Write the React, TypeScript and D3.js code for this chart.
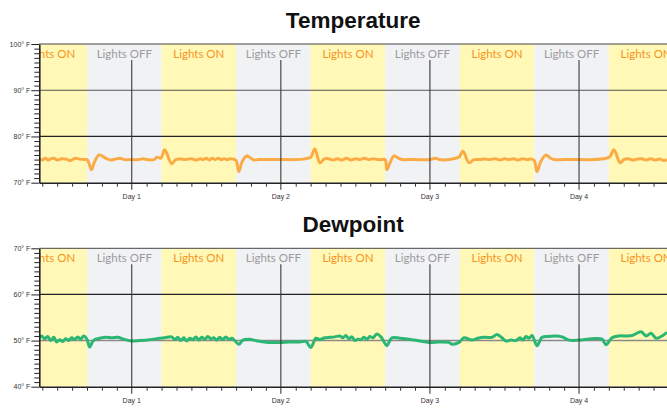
import { useEffect, useRef } from "react";
import * as d3 from "d3";

// time is in days; Day 1 = midnight at the start of day 1
const xDomain: [number, number] = [0.38, 4.59];
const dayValues = [1, 2, 3, 4];
const dayLabels = ["Day 1", "Day 2", "Day 3", "Day 4"];
const bandEdges = [0.2, 0.7, 1.2, 1.7, 2.2, 2.7, 3.2, 3.7, 4.2, 4.7];
const bandLabels = [
  "Lights ON", "Lights OFF", "Lights ON", "Lights OFF", "Lights ON",
  "Lights OFF", "Lights ON", "Lights OFF", "Lights ON",
];

const tempTicks = [70, 80, 90, 100];
const dewTicks = [40, 50, 60, 70];

// [day, °F]
const temperature: [number, number][] = [
  [0.38, 75.2], [0.4, 74.9], [0.42, 75.3], [0.44, 74.9], [0.46, 75.2], [0.48, 75.3],
  [0.5, 74.9], [0.53, 75.2], [0.56, 75.1], [0.59, 74.8], [0.62, 75.3], [0.65, 75.1],
  [0.68, 75.0], [0.7, 75.0], [0.715, 74.0], [0.73, 72.8], [0.75, 74.5], [0.78, 76.0],
  [0.8, 75.8], [0.83, 75.2], [0.86, 74.9], [0.89, 75.1], [0.92, 75.3], [0.95, 75.0],
  [0.98, 75.0], [1.0, 75.0], [1.05, 75.0], [1.08, 75.2], [1.1, 75.0], [1.15, 75.0],
  [1.17, 75.5], [1.195, 75.3], [1.221, 77.1], [1.268, 74.1], [1.295, 75.0], [1.33, 75.1],
  [1.36, 75.0], [1.4, 75.2], [1.43, 74.9], [1.46, 75.2], [1.48, 75.0], [1.5, 75.3],
  [1.52, 74.9], [1.54, 75.3], [1.56, 75.0], [1.58, 75.3], [1.6, 75.0], [1.62, 75.2],
  [1.64, 75.0], [1.66, 75.2], [1.68, 75.1], [1.7, 74.8], [1.718, 72.4], [1.74, 74.5],
  [1.77, 75.8], [1.79, 75.5], [1.82, 74.9], [1.85, 75.0], [1.9, 75.0], [2.0, 75.0],
  [2.1, 75.0], [2.15, 75.1], [2.18, 75.3], [2.2, 75.5], [2.228, 77.3], [2.262, 74.3],
  [2.29, 75.1], [2.32, 75.2], [2.35, 74.9], [2.38, 75.2], [2.41, 74.9], [2.44, 75.3],
  [2.47, 74.9], [2.5, 75.2], [2.53, 75.0], [2.56, 75.3], [2.59, 75.0], [2.62, 75.2],
  [2.65, 75.0], [2.68, 75.0], [2.7, 75.0], [2.711, 72.8], [2.735, 74.5], [2.758, 75.8],
  [2.79, 75.3], [2.815, 75.0], [2.85, 75.0], [2.9, 75.0], [3.0, 75.0], [3.04, 75.3],
  [3.06, 75.0], [3.13, 75.0], [3.17, 75.3], [3.195, 75.5], [3.221, 76.8], [3.262, 74.3],
  [3.295, 75.0], [3.33, 75.0], [3.37, 75.1], [3.4, 75.0], [3.44, 75.2], [3.47, 74.9],
  [3.5, 75.2], [3.53, 75.0], [3.56, 75.2], [3.59, 74.9], [3.62, 75.2], [3.65, 75.0],
  [3.68, 75.1], [3.7, 74.8], [3.718, 72.4], [3.745, 74.7], [3.779, 76.0], [3.8, 75.5],
  [3.832, 75.0], [3.9, 75.0], [4.0, 75.0], [4.1, 75.0], [4.181, 75.3], [4.205, 75.6],
  [4.235, 77.1], [4.275, 74.3], [4.3, 75.0], [4.33, 75.2], [4.36, 74.9], [4.39, 75.1],
  [4.42, 75.2], [4.45, 74.9], [4.48, 75.2], [4.51, 74.9], [4.54, 75.1], [4.57, 74.8],
  [4.59, 74.9],
];

const dewpoint: [number, number][] = [
  [0.38, 50.6], [0.396, 51.0], [0.416, 50.4], [0.436, 50.9], [0.456, 50.0], [0.477, 50.7],
  [0.497, 49.7], [0.517, 50.2], [0.537, 49.8], [0.557, 50.4], [0.577, 50.0], [0.597, 50.6],
  [0.617, 50.2], [0.638, 50.8], [0.658, 50.3], [0.678, 51.0], [0.698, 50.4], [0.718, 48.6],
  [0.738, 49.8], [0.758, 50.3], [0.785, 50.5], [0.826, 50.7], [0.866, 50.6], [0.906, 50.7],
  [0.946, 50.3], [1.0, 49.9], [1.054, 50.0], [1.121, 50.2], [1.188, 50.5], [1.221, 50.6],
  [1.268, 50.8], [1.289, 50.2], [1.309, 50.7], [1.329, 50.0], [1.349, 50.6], [1.369, 49.9],
  [1.389, 50.5], [1.409, 50.2], [1.43, 50.8], [1.45, 50.1], [1.47, 50.7], [1.49, 50.3],
  [1.51, 50.9], [1.53, 50.4], [1.55, 50.6], [1.57, 50.1], [1.59, 50.7], [1.61, 50.2],
  [1.631, 50.8], [1.651, 50.3], [1.671, 50.5], [1.691, 50.0], [1.718, 49.2], [1.745, 50.1],
  [1.785, 50.3], [1.846, 49.9], [1.919, 49.6], [1.993, 49.6], [2.06, 49.7], [2.128, 49.7],
  [2.168, 49.8], [2.201, 48.5], [2.235, 50.5], [2.262, 50.2], [2.295, 50.6], [2.329, 50.7],
  [2.362, 50.8], [2.396, 51.0], [2.416, 50.6], [2.436, 51.1], [2.456, 50.4], [2.477, 50.8],
  [2.497, 50.0], [2.517, 50.3], [2.537, 50.2], [2.557, 50.7], [2.577, 50.3], [2.597, 50.9],
  [2.617, 50.6], [2.644, 51.4], [2.671, 50.8], [2.691, 49.8], [2.711, 48.9], [2.745, 50.6],
  [2.799, 50.5], [2.859, 50.3], [2.933, 49.9], [2.993, 49.6], [3.067, 49.7], [3.128, 49.6],
  [3.148, 49.2], [3.195, 49.6], [3.228, 50.6], [3.282, 50.1], [3.322, 50.5], [3.369, 50.7],
  [3.416, 50.7], [3.45, 51.3], [3.483, 50.6], [3.51, 49.9], [3.544, 50.1], [3.577, 50.0],
  [3.604, 50.6], [3.624, 50.1], [3.644, 50.9], [3.664, 50.5], [3.685, 51.1], [3.718, 48.9],
  [3.752, 50.7], [3.799, 50.9], [3.846, 51.0], [3.886, 50.8], [3.933, 50.1], [4.0, 50.1],
  [4.087, 50.4], [4.154, 50.3], [4.181, 49.1], [4.221, 50.6], [4.268, 51.0], [4.315, 51.0],
  [4.356, 51.1], [4.416, 51.9], [4.45, 51.0], [4.483, 51.6], [4.517, 50.5], [4.557, 51.0],
  [4.59, 51.8],
];

const WIDTH = 667;
const HEIGHT = 410;
const LEFT = 39.3;

type PanelSpec = {
  id: string;
  title: string;
  titleY: number;
  top: number;
  bottom: number;
  ticks: number[];
  data: [number, number][];
  color: string;
  grid: { value: number; color: string; width: number }[];
};

function drawPanel(svg: d3.Selection<SVGSVGElement, unknown, null, undefined>, p: PanelSpec) {
  const x = d3.scaleLinear().domain(xDomain).range([LEFT, WIDTH]);
  const yExtent = d3.extent(p.ticks) as [number, number];
  const y = d3.scaleLinear().domain(yExtent).range([p.bottom, p.top]);

  svg.append("text")
    .attr("x", (LEFT + WIDTH) / 2)
    .attr("y", p.titleY)
    .attr("text-anchor", "middle")
    .attr("font-family", "Liberation Sans, Arial, sans-serif")
    .attr("font-weight", "bold")
    .attr("font-size", "22.5px")
    .attr("fill", "#111")
    .text(p.title);

  svg.append("clipPath")
    .attr("id", `clip-${p.id}`)
    .append("rect")
    .attr("x", LEFT)
    .attr("y", p.top)
    .attr("width", WIDTH - LEFT)
    .attr("height", p.bottom - p.top);

  const plot = svg.append("g").attr("clip-path", `url(#clip-${p.id})`);

  // light / dark bands
  const bands = bandLabels.map((label, i) => ({
    label,
    on: label === "Lights ON",
    x0: bandEdges[i],
    x1: bandEdges[i + 1],
  }));

  plot.selectAll("rect.band")
    .data(bands)
    .join("rect")
    .attr("class", "band")
    .attr("x", d => x(d.x0))
    .attr("width", d => x(d.x1) - x(d.x0))
    .attr("y", p.top)
    .attr("height", p.bottom - p.top)
    .attr("fill", d => (d.on ? "#fff8b6" : "#f1f2f4"));

  plot.selectAll("text.band")
    .data(bands)
    .join("text")
    .attr("class", "band")
    .attr("x", d => x((d.x0 + d.x1) / 2))
    .attr("y", p.top + 13.5)
    .attr("text-anchor", "middle")
    .attr("font-family", "Lato, Liberation Sans, sans-serif")
    .attr("font-size", "11.5px")
    .attr("fill", d => (d.on ? "#f7941e" : "#9a9b9e"))
    .text(d => d.label);

  // horizontal grid
  plot.selectAll("line.grid")
    .data(p.grid)
    .join("line")
    .attr("class", "grid")
    .attr("x1", LEFT)
    .attr("x2", WIDTH)
    .attr("y1", d => y(d.value))
    .attr("y2", d => y(d.value))
    .attr("stroke", d => d.color)
    .attr("stroke-width", d => d.width);

  // series
  const line = d3.line<[number, number]>()
    .x(d => x(d[0]))
    .y(d => y(d[1]))
    .curve(d3.curveCatmullRom.alpha(0.5));

  plot.append("path")
    .datum(p.data)
    .attr("d", line)
    .attr("fill", "none")
    .attr("stroke", p.color)
    .attr("stroke-width", 3)
    .attr("stroke-linejoin", "round");

  // day lines
  svg.selectAll(`line.day-${p.id}`)
    .data(dayValues)
    .join("line")
    .attr("class", `day-${p.id}`)
    .attr("x1", d => x(d))
    .attr("x2", d => x(d))
    .attr("y1", p.top + 16)
    .attr("y2", p.bottom + 7)
    .attr("stroke", "#3a3a3a")
    .attr("stroke-width", 1.1);

  svg.selectAll(`text.day-${p.id}`)
    .data(dayValues)
    .join("text")
    .attr("class", `day-${p.id}`)
    .attr("x", d => x(d))
    .attr("y", p.bottom + 16.5)
    .attr("text-anchor", "middle")
    .attr("font-family", "Liberation Sans, Arial, sans-serif")
    .attr("font-size", "7px")
    .attr("fill", "#333")
    .text((_, i) => dayLabels[i]);

  // top border
  svg.append("line")
    .attr("x1", LEFT)
    .attr("x2", WIDTH)
    .attr("y1", p.top)
    .attr("y2", p.top)
    .attr("stroke", "#444")
    .attr("stroke-width", 1);

  // x minor ticks (every 0.1 day)
  const minorX = d3.range(4, 46).map(v => v / 10).filter(v => v >= xDomain[0] && !dayValues.includes(v));
  svg.append("g")
    .attr("transform", `translate(0,${p.bottom})`)
    .call(d3.axisBottom(x).tickValues(minorX).tickSize(4).tickSizeOuter(0).tickFormat(() => ""))
    .call(g => g.select(".domain").attr("stroke", "#222").attr("stroke-width", 1.6))
    .call(g => g.selectAll(".tick line").attr("stroke", "#333"));

  // y minor ticks
  const minorY = d3.range(yExtent[0], yExtent[1] + 1).filter(v => !p.ticks.includes(v));
  svg.append("g")
    .attr("transform", `translate(${LEFT},0)`)
    .call(d3.axisLeft(y).tickValues(minorY).tickSize(5).tickSizeOuter(0).tickFormat(() => ""))
    .call(g => g.select(".domain").remove())
    .call(g => g.selectAll(".tick line").attr("stroke", "#222"));

  // y major ticks with labels
  svg.append("g")
    .attr("transform", `translate(${LEFT},0)`)
    .call(d3.axisLeft(y).tickValues(p.ticks).tickSize(8).tickSizeOuter(0).tickPadding(1).tickFormat(d => `${d}° F`))
    .call(g => g.select(".domain").attr("stroke", "#222").attr("stroke-width", 1.6))
    .call(g => g.selectAll(".tick line").attr("stroke", "#222"))
    .call(g => g.selectAll(".tick text")
      .attr("font-family", "Liberation Sans, Arial, sans-serif")
      .attr("font-size", "7px")
      .attr("fill", "#333"));
}

export default function App() {
  const svgRef = useRef<SVGSVGElement>(null);

  useEffect(() => {
    if (!svgRef.current) return;
    document.body.style.margin = "0";
    const svg = d3.select(svgRef.current);
    svg.selectAll("*").remove();

    drawPanel(svg, {
      id: "temp",
      title: "Temperature",
      titleY: 28,
      top: 44,
      bottom: 182.7,
      ticks: tempTicks,
      data: temperature,
      color: "#fbab45",
      grid: [
        { value: 90, color: "#555", width: 1.2 },
        { value: 80, color: "#222", width: 1.2 },
      ],
    });

    drawPanel(svg, {
      id: "dew",
      title: "Dewpoint",
      titleY: 232,
      top: 248.3,
      bottom: 386.7,
      ticks: dewTicks,
      data: dewpoint,
      color: "#2bb673",
      grid: [
        { value: 60, color: "#222", width: 1.2 },
        { value: 50, color: "#8a8a8a", width: 1.6 },
      ],
    });
  }, []);

  return (
    <svg ref={svgRef} width={WIDTH} height={HEIGHT} style={{ display: "block", background: "#fff" }} />
  );
}
